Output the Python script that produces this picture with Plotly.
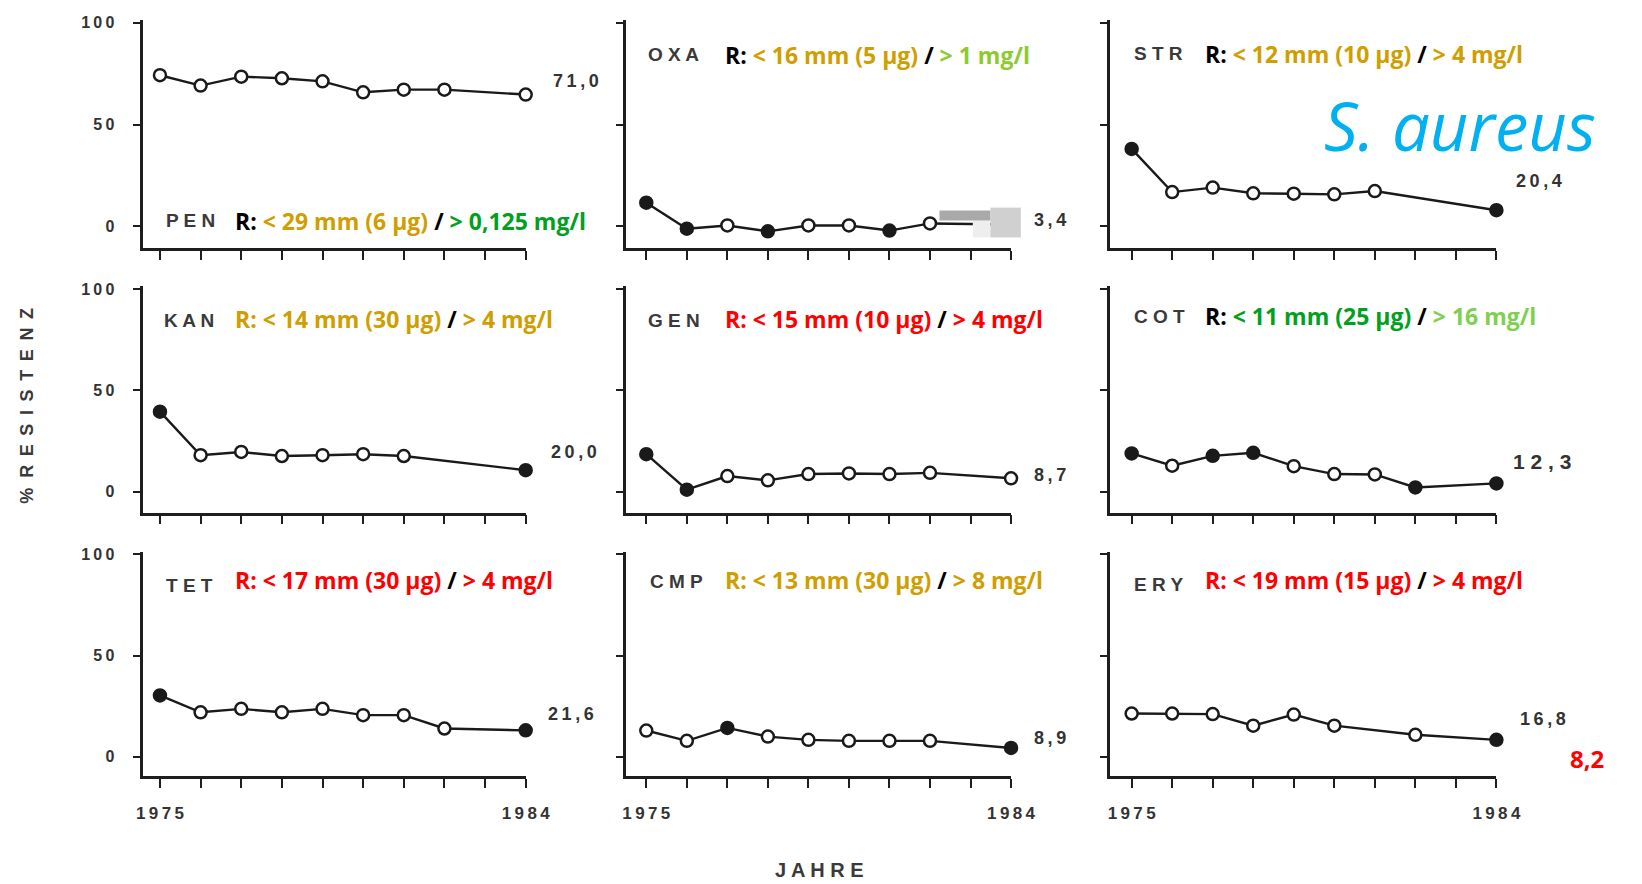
import plotly.graph_objects as go

W, H = 1642, 884

# ---------------- data ----------------
years = [1975, 1976, 1977, 1978, 1979, 1980, 1981, 1982, 1983, 1984]

codes = ["PEN", "OXA", "STR", "KAN", "GEN", "COT", "TET", "CMP", "ERY"]

pen = [74.3, 69.2, 73.6, 72.8, 71.3, 65.9, 67.2, 67.2, None, 64.8]
oxa = [11.7, -1.1, 0.5, -2.4, 0.5, 0.5, -2.0, 1.5, None, 1.0]
str_ = [38.1, 16.9, 19.1, 16.3, 16.1, 15.8, 17.4, None, None, 8.0]
kan = [39.5, 18.0, 19.6, 17.6, 18.0, 18.5, 17.6, None, None, 10.6]
gen = [18.5, 1.0, 7.7, 5.6, 8.7, 9.0, 8.7, 9.3, None, 6.6]
cot = [18.9, 12.8, 17.7, 19.2, 12.6, 8.7, 8.5, 2.1, None, 4.1]
tet = [30.3, 22.0, 23.7, 22.0, 23.7, 20.6, 20.6, 14.0, None, 13.1]
cmp_ = [13.0, 7.9, 14.3, 10.0, 8.4, 7.9, 7.9, 7.9, None, 4.4]
ery = [21.4, 21.4, 21.1, 15.4, 20.9, 15.4, None, 10.9, None, 8.4]

# 1 = filled circle, 0 = open circle
pen_f = [0, 0, 0, 0, 0, 0, 0, 0, 0, 0]
oxa_f = [1, 1, 0, 1, 0, 0, 1, 0, 0, 0]
str_f = [1, 0, 0, 0, 0, 0, 0, 0, 0, 1]
kan_f = [1, 0, 0, 0, 0, 0, 0, 0, 0, 1]
gen_f = [1, 1, 0, 0, 0, 0, 0, 0, 0, 0]
cot_f = [1, 0, 1, 1, 0, 0, 0, 1, 0, 1]
tet_f = [1, 0, 0, 0, 0, 0, 0, 0, 0, 1]
cmp_f = [0, 0, 1, 0, 0, 0, 0, 0, 0, 1]
ery_f = [0, 0, 0, 0, 0, 0, 0, 0, 0, 1]

end_labels = ["71,0", "3,4", "20,4", "20,0", "8,7", "12,3", "21,6", "8,9", "16,8"]
extra_label = "8,2"

y_tick_labels = ["0", "50", "100"]
x_tick_labels = ["1975", "1984"]

GOLD = "#D09E00"
GREEN = "#00A020"
LGREEN = "#8CCB2E"
LGREEN2 = "#80D050"
RED = "#FF0000"
BLK = "#000000"

criteria = [
    [("R: ", BLK), ("< 29 mm (6 µg)", GOLD), (" / ", BLK), ("> 0,125 mg/l", GREEN)],
    [("R: ", BLK), ("< 16 mm (5 µg)", GOLD), (" / ", BLK), ("> 1 mg/l", LGREEN)],
    [("R: ", BLK), ("< 12 mm (10 µg)", GOLD), (" / ", BLK), ("> 4 mg/l", GOLD)],
    [("R: < 14 mm (30 µg)", GOLD), (" / ", BLK), ("> 4 mg/l", GOLD)],
    [("R: < 15 mm (10 µg)", RED), (" / ", BLK), ("> 4 mg/l", RED)],
    [("R: ", BLK), ("< 11 mm (25 µg)", GREEN), (" / ", BLK), ("> 16 mg/l", LGREEN2)],
    [("R: < 17 mm (30 µg)", RED), (" / ", BLK), ("> 4 mg/l", RED)],
    [("R: < 13 mm (30 µg)", GOLD), (" / ", BLK), ("> 8 mg/l", GOLD)],
    [("R: < 19 mm (15 µg)", RED), (" / ", BLK), ("> 4 mg/l", RED)],
]

series = [pen, oxa, str_, kan, gen, cot, tet, cmp_, ery]
filled = [pen_f, oxa_f, str_f, kan_f, gen_f, cot_f, tet_f, cmp_f, ery_f]

# ---------------- layout geometry (pixels) ----------------
col_left = [139, 631, 1125]
col_1975 = [156, 652, 1147]
col_1984 = [529, 1024, 1519]
row_zero = [222, 489, 756]
row_100 = [17, 285, 552]
row_xax = [244, 510, 775]
row_top = [14, 282, 550]

THIN = "\u2009"


def spaced(s, sep=" "):
    return sep.join(list(s))


fig = go.Figure()
layout = dict(
    width=W, height=H, margin=dict(l=0, r=0, t=0, b=0),
    paper_bgcolor="white", plot_bgcolor="rgba(0,0,0,0)",
    showlegend=False,
)

AX = "#1e1e1e"

for i in range(9):
    r, c = divmod(i, 3)
    xn = "x" if i == 0 else f"x{i+1}"
    yn = "y" if i == 0 else f"y{i+1}"
    xk = "xaxis" if i == 0 else f"xaxis{i+1}"
    yk = "yaxis" if i == 0 else f"yaxis{i+1}"

    spacing = (col_1984[c] - col_1975[c]) / 9.0
    x0 = 1975 - (col_1975[c] - col_left[c]) / spacing
    ppu = (row_zero[r] - row_100[r]) / 100.0
    y0 = -(row_xax[r] - row_zero[r]) / ppu
    y1 = (row_zero[r] - row_top[r]) / ppu

    if r == 2:
        ttext = ["<b>" + spaced(x_tick_labels[0], THIN) + "</b>"] + [""] * 8 + \
                ["<b>" + spaced(x_tick_labels[1], THIN) + "</b>"]
    else:
        ttext = [""] * 10
    layout[xk] = dict(
        domain=[col_left[c] / W, col_1984[c] / W], range=[x0, 1984],
        anchor=yn, showline=True, linewidth=2.6, linecolor=AX,
        ticks="outside", ticklen=9, tickwidth=2.4, tickcolor=AX,
        tickvals=years, ticktext=ttext, showgrid=False, zeroline=False,
        tickfont=dict(family="Liberation Sans", size=17, color="#333333"),
        ticklabelstandoff=11, fixedrange=True,
    )
    layout[yk] = dict(
        domain=[1 - row_xax[r] / H, 1 - row_top[r] / H], range=[y0, y1],
        anchor=xn, showline=True, linewidth=2.6, linecolor=AX,
        ticks="outside", ticklen=7, tickwidth=2.4, tickcolor=AX,
        tickvals=[0, 50, 100],
        ticktext=["<b>" + spaced(t, THIN) + "</b>" for t in y_tick_labels] if c == 0 else ["", "", ""],
        showgrid=False, zeroline=False,
        tickfont=dict(family="Liberation Sans", size=16, color="#333333"),
        ticklabelstandoff=16, fixedrange=True,
    )

    ys = series[i]
    fig.add_trace(go.Scatter(
        x=years, y=ys, xaxis=xn, yaxis=yn, mode="lines",
        connectgaps=True, line=dict(color="#1a1a1a", width=2.4),
        cliponaxis=False, hoverinfo="skip",
    ))
    fcols = ["#1a1a1a" if f else "white" for f in filled[i]]
    fig.add_trace(go.Scatter(
        x=years, y=ys, xaxis=xn, yaxis=yn, mode="markers",
        marker=dict(symbol="circle", size=12, color=fcols,
                    line=dict(color="#1a1a1a", width=2.5)),
        cliponaxis=False,
    ))

fig.update_layout(**layout)

ann = []


def px(x, y, text, size, color, anchor="left", bold=True, family="Liberation Sans", angle=0, italic=False):
    t = f"<b>{text}</b>" if bold else text
    if italic:
        t = f"<i>{t}</i>"
    ann.append(dict(
        x=x / W, y=1 - y / H, xref="paper", yref="paper", text=t,
        showarrow=False, xanchor=anchor, yanchor="middle", textangle=angle,
        font=dict(family=family, size=size, color=color),
    ))


# panel code labels and criteria
code_pos = [(160, 216), (652, 49), (1147, 48), (158, 317), (652, 317), (1147, 313),
            (160, 583), (654, 579), (1147, 582)]
crit_pos = [(230, 216), (730, 49), (1220, 48), (231, 315), (730, 315), (1220, 312),
            (231, 578), (730, 578), (1220, 578)]
for i in range(9):
    px(code_pos[i][0], code_pos[i][1], spaced(codes[i], " "), 19, "#3a3a3a")
    txt = "".join(f'<span style="color:{col}">{s}</span>' for s, col in criteria[i])
    px(crit_pos[i][0], crit_pos[i][1], txt, 23, BLK, family="Open Sans")

# end-of-series labels
end_pos = [(555, 76), (1045, 215), (1537, 176), (553, 449), (1045, 472), (1534, 459),
           (550, 713), (1045, 737), (1541, 718)]
for i in range(9):
    if i == 5:
        px(end_pos[i][0], end_pos[i][1], spaced(end_labels[i]), 21, "#333333")
    else:
        px(end_pos[i][0], end_pos[i][1], spaced(end_labels[i], THIN), 18, "#333333")
px(1592, 758, extra_label, 24, RED, family="Open Sans")

# species
px(1482, 120, "S. aureus", 67, "#00B0F0", anchor="center", bold=False, family="Open Sans", italic=True)

# axis titles
px(21, 403, "%  " + spaced("RESISTENZ", " " + THIN), 18, "#3a3a3a", anchor="center", angle=-90)
px(829, 870, spaced("JAHRE", " "), 20, "#3a3a3a", anchor="center")

fig.update_layout(annotations=ann)

# scanned redaction blotch in the OXA panel
fig.update_layout(shapes=[
    dict(type="rect", xref="paper", yref="paper", layer="above",
         x0=985 / W, x1=1003 / W, y0=1 - 233 / H, y1=1 - 216 / H,
         fillcolor="#eeeeee", line=dict(width=0)),
    dict(type="rect", xref="paper", yref="paper", layer="above",
         x0=951 / W, x1=1003 / W, y0=1 - 216 / H, y1=1 - 206 / H,
         fillcolor="#a9a9a9", line=dict(width=0)),
    dict(type="rect", xref="paper", yref="paper", layer="above",
         x0=1003 / W, x1=1034 / W, y0=1 - 233 / H, y1=1 - 203 / H,
         fillcolor="#d0d0d0", line=dict(width=0)),
])

fig.write_html("out.html")
